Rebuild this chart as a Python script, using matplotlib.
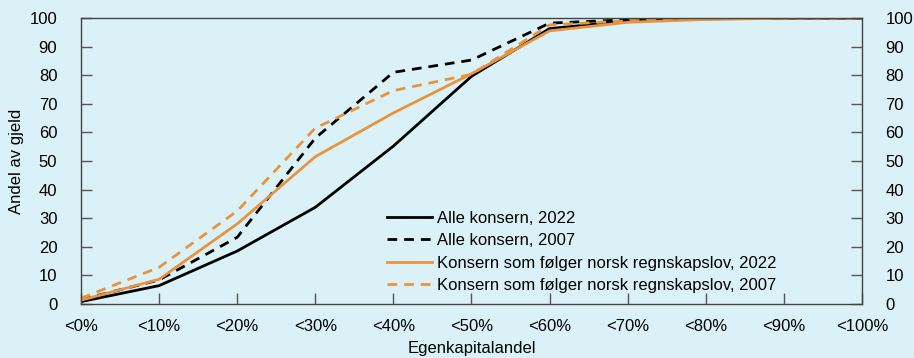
import matplotlib.pyplot as plt
import numpy as np

plt.rcParams['font.family'] = ['Liberation Sans', 'DejaVu Sans']

categories = ["<0%", "<10%", "<20%", "<30%", "<40%", "<50%", "<60%", "<70%", "<80%", "<90%", "<100%"]
alle_2022 = [0.8, 6.4, 18.5, 33.8, 55.2, 79.6, 96.3, 98.9, 99.7, 99.9, 100]
alle_2007 = [1.5, 8.4, 23.3, 58.0, 81.0, 85.3, 98.2, 99.4, 99.9, 100, 100]
nrs_2022 = [1.3, 8.6, 28.0, 51.5, 66.8, 80.5, 95.5, 98.5, 99.5, 99.9, 100]
nrs_2007 = [2.0, 12.8, 32.5, 61.5, 74.6, 80.3, 97.6, 99.0, 99.8, 100, 100]

bg = "#daf2f7"
orange = "#e8943f"

x = np.arange(len(categories)) * 10

fig = plt.figure(figsize=(9.14, 3.58), dpi=100, facecolor=bg)
ax = fig.add_axes([0.0886, 0.151, 0.8545, 0.7987], facecolor=bg)

ax.plot(x, alle_2022, color="black", lw=2, label="Alle konsern, 2022")
ax.plot(x, alle_2007, color="black", lw=2, ls=(0, (3.5, 2.5)), label="Alle konsern, 2007")
ax.plot(x, nrs_2022, color=orange, lw=2, label="Konsern som følger norsk regnskapslov, 2022")
ax.plot(x, nrs_2007, color=orange, lw=2, ls=(0, (3.5, 2.5)), label="Konsern som følger norsk regnskapslov, 2007")

ax.set_xlim(0, 100)
ax.set_ylim(0, 100)
ax.set_xticks(x)
ax.set_xticklabels(categories)
ax.set_yticks(np.arange(0, 101, 10))

ax.tick_params(axis="both", direction="in", length=8, width=1, color="#555555",
               labelsize=12)
ax.tick_params(axis="x", pad=11)
ax.tick_params(axis="y", pad=17, right=True, labelright=True)
for s in ax.spines.values():
    s.set_color("#444444")
    s.set_linewidth(1)

ax.set_ylabel("Andel av gjeld", fontsize=12, labelpad=4)
ax.set_xlabel("Egenkapitalandel", fontsize=12, labelpad=5)

ax.legend(loc="upper left", bbox_to_anchor=(0.383, 0.35), frameon=False, fontsize=12,
          handlelength=2.7, handletextpad=0.3, labelspacing=0.45, borderaxespad=0)

fig.savefig("out.png", dpi=100, facecolor=bg)
